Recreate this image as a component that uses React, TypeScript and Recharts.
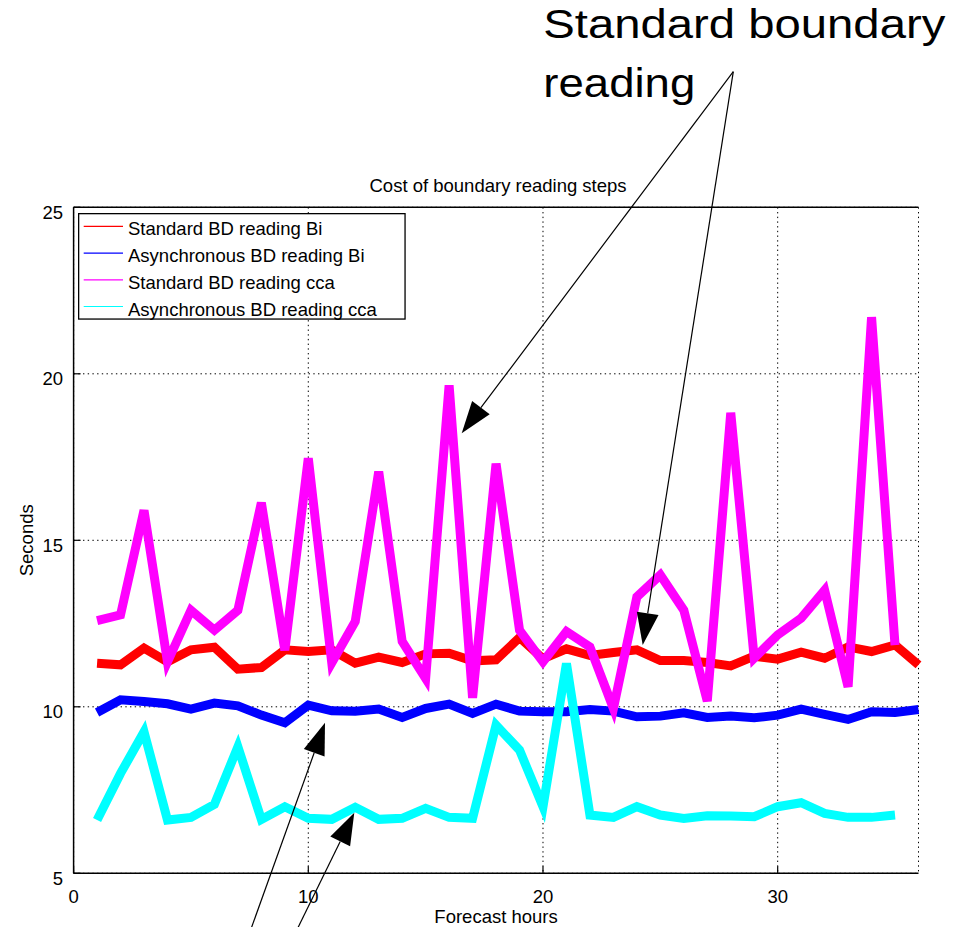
import { LineChart, Line, XAxis, YAxis, CartesianGrid, Legend } from "recharts";

const FONT = "'Liberation Sans', Arial, Helvetica, sans-serif";

// forecast hour of each sample
const hours = [
  1, 2, 3, 4, 5, 6, 7, 8, 9, 10, 11, 12, 13, 14, 15, 16, 17, 18,
  19, 20, 21, 22, 23, 24, 25, 26, 27, 28, 29, 30, 31, 32, 33, 34, 35, 36,
];

// seconds spent per step
const standardBi = [
  11.31, 11.26, 11.76, 11.35, 11.71, 11.79, 11.13, 11.18, 11.71, 11.66, 11.71, 11.31,
  11.49, 11.33, 11.59, 11.61, 11.38, 11.41, 12.08, 11.44, 11.74, 11.54, 11.63, 11.71,
  11.39, 11.39, 11.33, 11.23, 11.52, 11.43, 11.64, 11.46, 11.8, 11.66, 11.86, 11.26,
];
const asyncBi = [
  9.83, 10.21, 10.16, 10.09, 9.93, 10.11, 10.03, 9.75, 9.52, 10.05, 9.88, 9.87,
  9.93, 9.68, 9.95, 10.08, 9.8, 10.08, 9.87, 9.85, 9.85, 9.92, 9.87, 9.7,
  9.72, 9.82, 9.68, 9.72, 9.67, 9.75, 9.93, 9.77, 9.62, 9.85, 9.83, 9.92,
];
const standardCca = [
  12.59, 12.76, 15.9, 11.35, 12.9, 12.3, 12.9, 16.13, 11.7, 17.46, 11.32, 12.56,
  17.06, 11.96, 10.85, 19.65, 10.27, 17.3, 12.3, 11.35, 12.26, 11.8, 9.95, 13.3,
  13.96, 12.9, 10.17, 18.83, 11.46, 12.16, 12.66, 13.5, 10.6, 21.7, 11.85,
];
const asyncCca = [
  6.6, 8.0, 9.25, 6.6, 6.68, 7.07, 8.8, 6.62, 7.0, 6.65, 6.62, 6.98,
  6.62, 6.65, 6.95, 6.68, 6.65, 9.45, 8.7, 7.0, 11.3, 6.75, 6.68, 7.0,
  6.75, 6.65, 6.73, 6.72, 6.7, 7.0, 7.12, 6.8, 6.68, 6.68, 6.75,
];

const seriesNames = [
  "Standard BD reading Bi",
  "Asynchronous BD reading Bi",
  "Standard BD reading cca",
  "Asynchronous BD reading cca",
];
const seriesColors = ["#ff0000", "#0000ff", "#ff00ff", "#00ffff"];
const seriesKeys = ["stdBi", "asyncBi", "stdCca", "asyncCca"];

const xTicks = [0, 10, 20, 30];
const yTicks = [5, 10, 15, 20, 25];

const data = hours.map((h, i) => ({
  hour: h,
  stdBi: standardBi[i] ?? null,
  asyncBi: asyncBi[i] ?? null,
  stdCca: standardCca[i] ?? null,
  asyncCca: asyncCca[i] ?? null,
}));

const XTick = ({ x, y, payload }: any) => (
  <text x={x} y={y} dy={37} textAnchor="middle" fill="#000" fontSize={18.5} fontFamily={FONT}>
    {payload.value}
  </text>
);

const YTick = ({ x, y, payload }: any) => (
  <text x={x} y={y} dy={11.3} textAnchor="end" fill="#000" fontSize={18.5} fontFamily={FONT}>
    {payload.value}
  </text>
);

const SecondsLabel = (props: any) => {
  const vb = props.viewBox || { y: 0, height: 0 };
  const cy = vb.y + vb.height / 2;
  return (
    <text
      x={33.3}
      y={cy}
      transform={`rotate(-90 33.3 ${cy})`}
      textAnchor="middle"
      fill="#000"
      fontSize={18.5}
      fontFamily={FONT}
    >
      Seconds
    </text>
  );
};

const TitleLabel = (props: any) => {
  const vb = props.viewBox || { x: 0, y: 0, width: 0, height: 0 };
  return (
    <text
      x={vb.x + vb.width / 2 + 2}
      y={vb.y + vb.height - 15.3}
      textAnchor="middle"
      fill="#000"
      fontSize={18.5}
      fontFamily={FONT}
    >
      Cost of boundary reading steps
    </text>
  );
};

function LegendBox({ payload }: any) {
  // keep the plotting order rather than the legend's alphabetical sort
  const items = [...(payload || [])].sort(
    (a: any, b: any) => seriesNames.indexOf(a.value) - seriesNames.indexOf(b.value)
  );
  return (
    <svg width={328} height={107} style={{ display: "block" }}>
      <rect x={0.65} y={0.65} width={326.4} height={105.4} fill="#fff" stroke="#000" strokeWidth={1.3} />
      {items.map((p: any, i: number) => {
        const cy = 13.4 + i * 26.7;
        return (
          <g key={p.value}>
            <line x1={5.7} x2={45} y1={cy} y2={cy} stroke={p.color} strokeWidth={1.2} />
            <text x={50} y={cy + 9} fontSize={18.5} fill="#000" fontFamily={FONT}>
              {p.value}
            </text>
          </g>
        );
      })}
    </svg>
  );
}

// thin pointer with a filled triangular head
function Arrow({ from, to }: { from: number[]; to: number[] }) {
  const dx = to[0] - from[0];
  const dy = to[1] - from[1];
  const len = Math.hypot(dx, dy);
  const ux = dx / len;
  const uy = dy / len;
  const bx = to[0] - ux * 32;
  const by = to[1] - uy * 32;
  const px = -uy * 11;
  const py = ux * 11;
  return (
    <g>
      <line x1={from[0]} y1={from[1]} x2={bx} y2={by} stroke="#000" strokeWidth={1.2} />
      <polygon points={`${to[0]},${to[1]} ${bx + px},${by + py} ${bx - px},${by - py}`} fill="#000" />
    </g>
  );
}

export default function App() {
  return (
    <div
      style={{
        position: "absolute",
        left: 0,
        top: 0,
        width: 967,
        height: 927,
        background: "#fff",
        fontFamily: FONT,
      }}
    >
      <LineChart
        width={967}
        height={927}
        data={data}
        margin={{ top: 206.3, right: 48.5, bottom: 23.7, left: 0 }}
      >
        <CartesianGrid stroke="#000" strokeDasharray="1.4 3.3" strokeWidth={1} />
        <XAxis
          dataKey="hour"
          type="number"
          domain={[0, 36]}
          ticks={xTicks}
          height={30}
          tickSize={-7}
          tickMargin={0}
          tick={<XTick />}
          axisLine={{ stroke: "#000", strokeWidth: 1.5 }}
          tickLine={{ stroke: "#000", strokeWidth: 1.2 }}
          label={{ value: "Forecast hours", position: "bottom", offset: 6.6, fill: "#000", fontSize: 18.5 }}
        />
        <XAxis
          xAxisId="top"
          orientation="top"
          dataKey="hour"
          type="number"
          domain={[0, 36]}
          ticks={xTicks}
          height={1}
          tickSize={-7}
          tick={false}
          axisLine={{ stroke: "#000", strokeWidth: 1.5 }}
          tickLine={{ stroke: "#000", strokeWidth: 1.2 }}
          label={<TitleLabel />}
        />
        <YAxis
          type="number"
          domain={[5, 25]}
          ticks={yTicks}
          width={73.6}
          tickSize={-7}
          tickMargin={17.6}
          tick={<YTick />}
          axisLine={{ stroke: "#000", strokeWidth: 1.5 }}
          tickLine={{ stroke: "#000", strokeWidth: 1.2 }}
          label={<SecondsLabel />}
        />
        <YAxis
          yAxisId="right"
          orientation="right"
          type="number"
          domain={[5, 25]}
          ticks={yTicks}
          width={0}
          tickSize={-7}
          tick={false}
          axisLine={{ stroke: "#000", strokeWidth: 1.5 }}
          tickLine={{ stroke: "#000", strokeWidth: 1.2 }}
        />
        <Legend
          layout="vertical"
          align="center"
          verticalAlign="middle"
          content={<LegendBox />}
          wrapperStyle={{ left: 78, top: 213, width: 328, height: 107, margin: 0 }}
        />
        {seriesKeys.map((k, i) => (
          <Line
            key={k}
            type="linear"
            dataKey={k}
            name={seriesNames[i]}
            stroke={seriesColors[i]}
            strokeWidth={9}
            dot={false}
            activeDot={false}
            legendType="line"
            isAnimationActive={false}
          />
        ))}
      </LineChart>
      <svg
        width={967}
        height={927}
        style={{ position: "absolute", left: 0, top: 0, pointerEvents: "none" }}
      >
        <text x={543.3} y={38} fontSize={40} fill="#000" fontFamily={FONT} textLength={402} lengthAdjust="spacingAndGlyphs">
          Standard boundary
        </text>
        <text x={543.3} y={97} fontSize={40} fill="#000" fontFamily={FONT} textLength={152} lengthAdjust="spacingAndGlyphs">
          reading
        </text>
        <Arrow from={[733.3, 71.7]} to={[461.7, 433.3]} />
        <Arrow from={[733.3, 71.7]} to={[642.7, 645]} />
        <Arrow from={[249.3, 933.7]} to={[325, 722.7]} />
        <Arrow from={[295, 933.7]} to={[354.3, 812.7]} />
      </svg>
    </div>
  );
}
